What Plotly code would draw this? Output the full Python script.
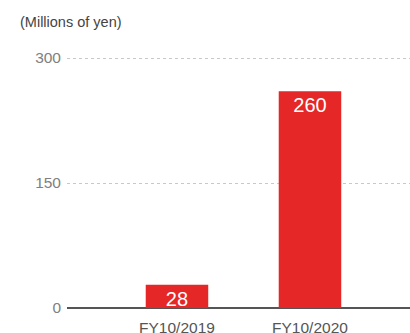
import plotly.graph_objects as go

categories = ["FY10/2019", "FY10/2020"]
values = [28, 260]
tick_vals = [0, 150, 300]

fig = go.Figure(
    go.Bar(
        x=categories,
        y=values,
        width=0.47,
        marker=dict(color="#e52727", line=dict(width=0)),
        text=[str(v) for v in values],
        textposition="inside",
        insidetextanchor="end",
        textfont=dict(color="white", size=20, family="Liberation Sans, Arial, sans-serif"),
        hoverinfo="skip",
    )
)

fig.update_layout(
    width=410,
    height=333,
    margin=dict(l=67, r=0, t=55, b=25, autoexpand=False),
    paper_bgcolor="white",
    plot_bgcolor="white",
    showlegend=False,
    uniformtext=dict(minsize=20, mode="show"),
    font=dict(family="Liberation Sans, Arial, sans-serif", color="#666666", size=14),
    annotations=[
        dict(
            text="(Millions of yen)",
            xref="paper", yref="paper",
            x=-49 / 343, y=1 + 33 / 253,
            xanchor="left", yanchor="middle",
            showarrow=False,
            font=dict(size=14.5, color="#444444"),
        )
    ],
)

fig.update_xaxes(
    type="category",
    range=[-0.827, 1.752],
    showgrid=False,
    showline=False,
    ticks="",
    ticklabelstandoff=8,
    tickfont=dict(size=15.5, color="#555555"),
    automargin=False,
)

fig.update_yaxes(
    range=[0, 303.6],
    tickvals=tick_vals,
    showgrid=True,
    gridcolor="#c8c8c8",
    griddash="dot",
    gridwidth=1,
    zeroline=True,
    zerolinecolor="#555555",
    zerolinewidth=2,
    showline=False,
    ticks="",
    ticklabelstandoff=5,
    tickfont=dict(size=15.5, color="#808080"),
    automargin=False,
)

fig.write_html("out.html")
